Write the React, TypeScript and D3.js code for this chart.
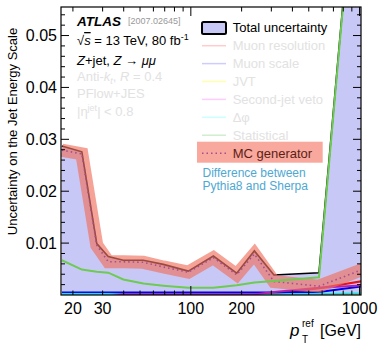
import { useEffect, useRef } from "react"
import * as d3 from "d3"

// bin centres in pT^ref [GeV]
const ptBins = [17.2, 22.6, 27.7, 32.4, 39.8, 52.3, 68.7, 96.6, 136, 187, 238, 311, 575, 1100]

const totalUnc = [0.0287, 0.0276, 0.0099, 0.0074, 0.0067, 0.0067, 0.0059, 0.0046, 0.0075, 0.0042, 0.0085, 0.00385, 0.0043, 0.1072]
const mcGenerator = [0.0279, 0.0272, 0.0096, 0.0064, 0.0064, 0.0063, 0.0054, 0.0044, 0.0072, 0.0039, 0.0079, 0.0026, 0.0017, 0.0052]
const statistical = [0.0067, 0.0049, 0.0045, 0.0043, 0.003, 0.0022, 0.0018, 0.0014, 0.0014, 0.0019, 0.0024, 0.0027, 0.0034, 0.107]
const muonResolution = [0.0001, 0.0001, 0.0001, 0.0001, 0.0001, 0.0001, 0.0001, 0.0001, 0.0001, 0.0001, 0.0001, 0.0003, 0.0013, 0.0028]
const muonScale = [0.0005, 0.0005, 0.0005, 0.0005, 0.0005, 0.0005, 0.0005, 0.0005, 0.0005, 0.0005, 0.0005, 0.0005, 0.0006, 0.00175]
const jvt = [0.00005, 0.00005, 0.00005, 0.00005, 0.00005, 0.00005, 0.00005, 0.00005, 0.00005, 0.00005, 0.00005, 0.00005, 0.00005, 0.00005]
const secondJetVeto = [-0.0003, -0.0003, -0.0003, -0.0003, 0.0001, 0.0001, 0.0001, 0.0001, 0.0001, 0.0001, 0.0001, 0.0006, 0.0014, 0.0019]
const deltaPhi = [0.0002, 0.0002, 0.0002, 0.0002, 0.00005, 0.00005, 0.00005, 0.00005, 0.00005, 0.00005, 0.00005, 0.0001, 0.0002, 0.0003]

const xTickLabels = [20, 30, 100, 200, 1000]
const yTickLabels = [0.01, 0.02, 0.03, 0.04, 0.05]

const legendLabels = ["Muon resolution", "Muon scale", "JVT", "Second-jet veto", "Δφ", "Statistical"]
const legendColors = ["#ffcccc", "#ccccff", "#ffffb0", "#ffccff", "#ccffff", "#cfeecf"]

const FONT = "'Liberation Sans', Arial, Helvetica, sans-serif"

export default function App() {
  const svgRef = useRef<SVGSVGElement>(null)

  useEffect(() => {
    const svg = d3.select(svgRef.current)
    svg.selectAll("*").remove()

    const x = d3.scaleLog().domain([17, 1020]).range([61, 361])
    const y = d3.scaleLinear().domain([0, 0.0555]).range([295, 7])

    svg.append("defs")
      .append("clipPath")
      .attr("id", "plot-clip")
      .append("rect")
      .attr("x", 61)
      .attr("y", 7)
      .attr("width", 300)
      .attr("height", 288)

    const plot = svg.append("g").attr("clip-path", "url(#plot-clip)")

    const idx = d3.range(ptBins.length)
    const line = (vals: number[]) =>
      d3.line<number>()
        .x((i) => x(ptBins[i]))
        .y((i) => y(vals[i]))(idx)

    // total uncertainty fill
    const area = d3.area<number>()
      .x((i) => x(ptBins[i]))
      .y0(y(0))
      .y1((i) => y(totalUnc[i]))
    plot.append("path").attr("d", area(idx)).attr("fill", "#c8c8f7")

    const small = [
      { vals: jvt, color: "#e8d800" },
      { vals: muonResolution, color: "#ee1111" },
      { vals: muonScale, color: "#0000ee" },
      { vals: deltaPhi, color: "#22dddd" },
      { vals: secondJetVeto, color: "#b020b0" },
    ]
    small.forEach((s) => {
      plot.append("path").attr("d", line(s.vals)).attr("fill", "none")
        .attr("stroke", s.color).attr("stroke-width", 2)
    })

    // total outline
    plot.append("path").attr("d", line(totalUnc)).attr("fill", "none")
      .attr("stroke", "#000").attr("stroke-width", 1.6)

    // MC generator band + dotted line
    plot.append("path").attr("d", line(mcGenerator)).attr("fill", "none")
      .attr("stroke", "#f0705f").attr("stroke-opacity", 0.65)
      .attr("stroke-width", 13).attr("stroke-linejoin", "miter")
    plot.append("path").attr("d", line(mcGenerator)).attr("fill", "none")
      .attr("stroke", "#a0508f").attr("stroke-width", 1.6)
      .attr("stroke-dasharray", "1.5 3")

    // statistical
    plot.append("path").attr("d", line(statistical)).attr("fill", "none")
      .attr("stroke", "#6ccb50").attr("stroke-width", 2)

    // frame
    svg.append("rect").attr("x", 61).attr("y", 7).attr("width", 300).attr("height", 288)
      .attr("fill", "none").attr("stroke", "#000").attr("stroke-width", 1.2)

    // y ticks
    const yTicks = d3.range(1, 28).map((k) => k * 0.002)
    yTicks.forEach((v) => {
      const major = Math.abs(v / 0.01 - Math.round(v / 0.01)) < 1e-6
      const len = major ? 8 : 4
      svg.append("line").attr("x1", 61).attr("x2", 61 + len).attr("y1", y(v)).attr("y2", y(v))
        .attr("stroke", "#000").attr("stroke-width", 1)
      svg.append("line").attr("x1", 361).attr("x2", 361 - len).attr("y1", y(v)).attr("y2", y(v))
        .attr("stroke", "#000").attr("stroke-width", 1)
    })
    yTickLabels.forEach((v) => {
      svg.append("text").attr("x", 57).attr("y", y(v)).attr("dy", "0.36em")
        .attr("text-anchor", "end").style("font-family", FONT).style("font-size", "16px")
        .text(d3.format(".2f")(v))
    })

    // x ticks
    const xTicks = [20, 30, 40, 50, 60, 70, 80, 90, 100, 200, 300, 400, 500, 600, 700, 800, 900, 1000]
    xTicks.forEach((v) => {
      const major = v === 100 || v === 1000
      const len = major ? 9 : 4.5
      svg.append("line").attr("x1", x(v)).attr("x2", x(v)).attr("y1", 295).attr("y2", 295 - len)
        .attr("stroke", "#000").attr("stroke-width", 1)
      svg.append("line").attr("x1", x(v)).attr("x2", x(v)).attr("y1", 7).attr("y2", 7 + len)
        .attr("stroke", "#000").attr("stroke-width", 1)
    })
    xTickLabels.forEach((v) => {
      svg.append("text").attr("x", x(v)).attr("y", 314).attr("text-anchor", "middle")
        .style("font-family", FONT).style("font-size", "16px").text(v)
    })

    // axis titles
    svg.append("text").attr("transform", "translate(17,131.5) rotate(-90)")
      .attr("text-anchor", "middle").style("font-family", FONT).style("font-size", "13px")
      .text("Uncertainty on the Jet Energy Scale")

    const xt = svg.append("g").style("font-family", FONT)
    xt.append("text").attr("x", 290).attr("y", 336).style("font-size", "17px").style("font-style", "italic").text("p")
    xt.append("text").attr("x", 302).attr("y", 327).style("font-size", "10px").text("ref")
    xt.append("text").attr("x", 302).attr("y", 343).style("font-size", "10px").text("T")
    xt.append("text").attr("x", 361).attr("y", 336).attr("text-anchor", "end").style("font-size", "16px").text("[GeV]")

    // ATLAS labels
    const lab = svg.append("g").style("font-family", FONT)
    lab.append("text").attr("x", 77).attr("y", 26).style("font-size", "13.5px")
      .style("font-weight", "bold").style("font-style", "italic").text("ATLAS")
    lab.append("text").attr("x", 128).attr("y", 24).style("font-size", "9px").attr("fill", "#999").text("[2007.02645]")

    const l1 = lab.append("text").attr("x", 77).attr("y", 45).style("font-size", "13px")
    l1.append("tspan").text("√")
    l1.append("tspan").style("font-style", "italic").style("text-decoration", "overline").text("s")
    l1.append("tspan").text(" = 13 TeV, 80 fb")
    l1.append("tspan").attr("dy", -5).style("font-size", "9px").text("-1")

    const l2 = lab.append("text").attr("x", 77).attr("y", 64.5).style("font-size", "13px")
    l2.append("tspan").style("font-style", "italic").text("Z")
    l2.append("tspan").text("+jet, ")
    l2.append("tspan").style("font-style", "italic").text("Z")
    l2.append("tspan").text(" → ")
    l2.append("tspan").style("font-style", "italic").text("μμ")

    const faded = "#e2e2e2"
    const l3 = lab.append("text").attr("x", 77).attr("y", 81).style("font-size", "13px").attr("fill", faded)
    l3.append("tspan").text("Anti-")
    l3.append("tspan").style("font-style", "italic").text("k")
    l3.append("tspan").attr("dy", 3).style("font-size", "9px").style("font-style", "italic").text("t")
    l3.append("tspan").attr("dy", -3).text(", ")
    l3.append("tspan").style("font-style", "italic").text("R")
    l3.append("tspan").text(" = 0.4")

    lab.append("text").attr("x", 77).attr("y", 98).style("font-size", "13px").attr("fill", faded).text("PFlow+JES")

    const l5 = lab.append("text").attr("x", 77).attr("y", 115.5).style("font-size", "13px").attr("fill", faded)
    l5.append("tspan").text("|η")
    l5.append("tspan").attr("dy", -5).style("font-size", "9px").text("jet")
    l5.append("tspan").attr("dy", 5).text("| < 0.8")

    // legend
    const leg = svg.append("g").style("font-family", FONT).style("font-size", "13px")
    leg.append("rect").attr("x", 202).attr("y", 22).attr("width", 24).attr("height", 12).attr("rx", 1.5)
      .attr("fill", "#c8c8f7").attr("stroke", "#000").attr("stroke-width", 2)
    leg.append("text").attr("x", 232.7).attr("y", 32.3).text("Total uncertainty")

    legendLabels.forEach((label, i) => {
      const cy = 45.7 + i * 17.9
      leg.append("line").attr("x1", 202).attr("x2", 226).attr("y1", cy).attr("y2", cy)
        .attr("stroke", legendColors[i]).attr("stroke-width", 1.5)
      leg.append("text").attr("x", 232.7).attr("y", cy + 4.6).attr("fill", faded).text(label)
    })

    const mcY = 153.3
    leg.append("rect").attr("x", 197).attr("y", 141.7).attr("width", 125.7).attr("height", 21)
      .attr("fill", "#f8a89c")
    leg.append("line").attr("x1", 202).attr("x2", 226).attr("y1", mcY).attr("y2", mcY)
      .attr("stroke", "#a0508f").attr("stroke-width", 1.6).attr("stroke-dasharray", "1.5 3")
    leg.append("text").attr("x", 232.7).attr("y", mcY + 4.6).attr("fill", "#5c1e18").text("MC generator")

    leg.append("text").attr("x", 202.5).attr("y", 176.5).style("font-size", "12px").attr("fill", "#4ea8d2")
      .text("Difference between")
    leg.append("text").attr("x", 202.5).attr("y", 190).style("font-size", "12px").attr("fill", "#4ea8d2")
      .text("Pythia8 and Sherpa")
  }, [])

  return (
    <svg
      ref={svgRef}
      width={380}
      height={345}
      style={{ position: "absolute", left: 0, top: 0, background: "#fff" }}
    />
  )
}
